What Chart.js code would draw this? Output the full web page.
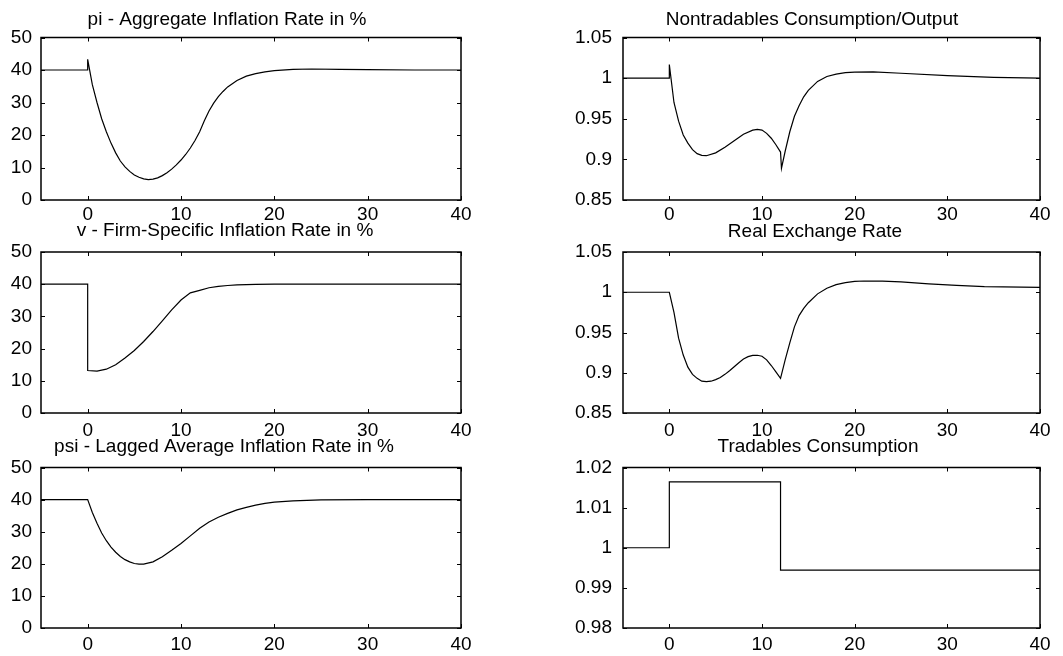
<!DOCTYPE html>
<html>
<head>
<meta charset="utf-8">
<script src="https://cdn.jsdelivr.net/npm/chart.js@4.4.1/dist/chart.umd.min.js"></script>
<style>
  html, body { margin: 0; padding: 0; background: #fff; overflow: hidden; }
  body { width: 1063px; height: 656px; position: relative; }
  canvas { position: absolute; }
</style>
</head>
<body>
<canvas id="c1"></canvas>
<canvas id="c2"></canvas>
<canvas id="c3"></canvas>
<canvas id="c4"></canvas>
<canvas id="c5"></canvas>
<canvas id="c6"></canvas>
<script>
// tick values
const xTicks = [0, 10, 20, 30, 40];
const pctTicks = [0, 10, 20, 30, 40, 50];
const ratioTicks = [0.85, 0.9, 0.95, 1, 1.05];
const tradTicks = [0.98, 0.99, 1, 1.01, 1.02];

// pi - aggregate inflation
const piT = [-5, 0, 0, 0.5, 1, 1.5, 2, 2.5, 3, 3.5, 4, 4.5, 5, 5.5, 6, 6.5, 7, 7.5, 8, 8.5, 9, 9.5, 10, 10.5, 11, 11.5, 12, 12.5, 13, 13.5, 14, 14.5, 15, 16, 17, 18, 19, 20, 22, 24, 27, 30, 35, 40];
const piV = [40, 40, 43.3, 35.5, 30, 25, 21, 17.5, 14.5, 12, 10.2, 8.8, 7.7, 7.0, 6.5, 6.3, 6.4, 6.8, 7.5, 8.4, 9.5, 10.8, 12.3, 14.0, 16.0, 18.3, 21.0, 24.4, 27.4, 29.8, 31.8, 33.4, 34.8, 36.8, 38.1, 38.9, 39.4, 39.8, 40.2, 40.3, 40.2, 40.1, 40.0, 40.0];

// nontradables consumption / output
const ntT = [-5, 0, 0, 0.5, 1, 1.5, 2, 2.5, 3, 3.5, 4, 5, 6, 7, 8, 9, 9.5, 10, 10.5, 11, 11.5, 12, 12.1, 12.5, 13, 13.5, 14, 14.5, 15, 16, 17, 18, 19, 20, 22, 25, 30, 35, 40];
const ntV = [1, 1, 1.0167, 0.97, 0.947, 0.93, 0.92, 0.912, 0.907, 0.905, 0.9045, 0.908, 0.915, 0.923, 0.931, 0.936, 0.937, 0.936, 0.932, 0.926, 0.918, 0.909, 0.889, 0.91, 0.934, 0.953, 0.966, 0.977, 0.985, 0.996, 1.002, 1.005, 1.0068, 1.0075, 1.0078, 1.006, 1.003, 1.001, 1.0];

// v - firm-specific inflation
const vT = [-5, 0, 0, 1, 2, 3, 4, 5, 6, 7, 8, 9, 10, 11, 12, 13, 14, 15, 16, 18, 20, 25, 30, 40];
const vV = [40, 40, 13.2, 13.0, 13.6, 15.0, 17.1, 19.4, 22.2, 25.3, 28.6, 32.0, 35.1, 37.3, 38.1, 38.9, 39.3, 39.6, 39.8, 39.95, 40.05, 40.05, 40.0, 40.0];

// real exchange rate
const rerT = [-5, 0, 0.5, 1, 1.5, 2, 2.5, 3, 3.5, 4, 4.5, 5, 5.5, 6, 6.5, 7, 7.5, 8, 8.5, 9, 9.5, 10, 10.5, 11, 11.5, 12, 12.5, 13, 13.5, 14, 14.5, 15, 16, 17, 18, 19, 20, 21, 23, 25, 28, 31, 34, 40];
const rerV = [1, 1, 0.975, 0.943, 0.922, 0.907, 0.898, 0.893, 0.8895, 0.889, 0.8895, 0.8915, 0.894, 0.898, 0.9025, 0.9075, 0.9125, 0.917, 0.92, 0.9215, 0.9217, 0.9205, 0.916, 0.909, 0.901, 0.893, 0.916, 0.937, 0.957, 0.971, 0.98, 0.987, 0.998, 1.005, 1.0095, 1.012, 1.0135, 1.014, 1.0138, 1.0128, 1.0105, 1.0085, 1.007, 1.006];

// psi - lagged average inflation
const psiT = [-5, 0, 0.5, 1, 1.5, 2, 2.5, 3, 3.5, 4, 4.5, 5, 5.5, 6, 7, 8, 9, 10, 11, 12, 13, 14, 15, 16, 17, 18, 19, 20, 22, 25, 30, 40];
const psiV = [40, 40, 36.0, 32.6, 29.6, 27.2, 25.2, 23.6, 22.3, 21.3, 20.6, 20.1, 19.9, 19.9, 20.6, 22.2, 24.2, 26.3, 28.7, 31.1, 33.0, 34.5, 35.7, 36.8, 37.6, 38.3, 38.8, 39.2, 39.6, 39.9, 40, 40];

// tradables consumption (step series)
const trT = [-5, 0, 12, 40];
const trV = [1, 1.0164, 0.9944, 0.9944];

const FONT = "'Liberation Sans', Arial, Helvetica, sans-serif";

// draws the frame and the inward tick marks on all four sides
const frameTicks = {
    id: 'frameTicks',
    afterDraw(chart) {
        const { ctx, chartArea: a, scales } = chart;
        const len = 4;
        ctx.save();
        ctx.strokeStyle = '#000';
        ctx.lineWidth = 1;
        ctx.beginPath();
        scales.x.ticks.forEach(t => {
            const px = Math.round(scales.x.getPixelForValue(t.value)) + 0.5;
            ctx.moveTo(px, a.bottom); ctx.lineTo(px, a.bottom - len);
            ctx.moveTo(px, a.top); ctx.lineTo(px, a.top + len);
        });
        scales.y.ticks.forEach(t => {
            const py = Math.round(scales.y.getPixelForValue(t.value)) + 0.5;
            ctx.moveTo(a.left, py); ctx.lineTo(a.left + len, py);
            ctx.moveTo(a.right, py); ctx.lineTo(a.right - len, py);
        });
        ctx.stroke();
        ctx.lineWidth = 1.5;
        ctx.strokeRect(a.left, a.top, a.right - a.left, a.bottom - a.top);
        ctx.restore();
    }
};

const fmt = v => String(Math.round(v * 1000) / 1000);

// box = plot area [left, top, right, bottom], tc = title centre
const panels = [
    { id: 'c1', title: 'pi - Aggregate Inflation Rate in %', t: piT, v: piV, min: 0, max: 50, yt: pctTicks, box: [41, 37, 461, 200], tc: [227, 19.5], ypad: 9, xpad: 3 },
    { id: 'c2', title: 'Nontradables Consumption/Output', t: ntT, v: ntV, min: 0.85, max: 1.05, yt: ratioTicks, box: [623, 37, 1040, 200], tc: [812, 19.5], ypad: 11, xpad: 3 },
    { id: 'c3', title: 'v - Firm-Specific Inflation Rate in %', t: vT, v: vV, min: 0, max: 50, yt: pctTicks, box: [41, 252, 461, 413], tc: [225, 231], ypad: 9, xpad: 6 },
    { id: 'c4', title: 'Real Exchange Rate', t: rerT, v: rerV, min: 0.85, max: 1.05, yt: ratioTicks, box: [623, 252, 1040, 413], tc: [815, 232], ypad: 11, xpad: 6 },
    { id: 'c5', title: 'psi - Lagged Average Inflation Rate in %', t: psiT, v: psiV, min: 0, max: 50, yt: pctTicks, box: [41, 467, 461, 628], tc: [224, 446.5], ypad: 9, xpad: 5 },
    { id: 'c6', title: 'Tradables Consumption', t: trT, v: trV, min: 0.98, max: 1.02, yt: tradTicks, box: [623, 467, 1040, 628], tc: [818, 446.5], ypad: 11, xpad: 5, stepped: true }
];

const yAxisW = 64;
const fontSize = 19;

panels.forEach(p => {
    const [x0, y0, x1, y1] = p.box;
    const left = x0 - yAxisW;
    const right = 2 * p.tc[0] - left;
    const top = p.tc[1] - 14;
    const height = y1 + 28 - top;
    const width = right - left;

    const cv = document.getElementById(p.id);
    cv.width = width;
    cv.height = height;
    cv.style.left = left + 'px';
    cv.style.top = top + 'px';
    cv.style.width = width + 'px';
    cv.style.height = height + 'px';

    const lineH = fontSize * 1.2;
    const padTop = p.tc[1] - top - lineH / 2;
    const padBottom = y0 - top - lineH - padTop;

    new Chart(cv, {
        type: 'line',
        data: {
            datasets: [{
                data: p.t.map((x, i) => ({ x: x, y: p.v[i] })),
                borderColor: '#000',
                borderWidth: 1.2,
                pointRadius: 0,
                tension: 0,
                fill: false,
                stepped: p.stepped ? true : false
            }]
        },
        options: {
            responsive: false,
            animation: false,
            devicePixelRatio: 1,
            layout: { padding: 0 },
            plugins: {
                legend: { display: false },
                tooltip: { enabled: false },
                title: {
                    display: true,
                    text: p.title,
                    color: '#000',
                    font: { family: FONT, size: fontSize, weight: 'normal' },
                    padding: { top: padTop, bottom: padBottom }
                }
            },
            scales: {
                x: {
                    type: 'linear',
                    min: -5,
                    max: 40,
                    grid: { display: false, drawTicks: false },
                    border: { display: false },
                    ticks: { color: '#000', font: { family: FONT, size: fontSize }, padding: p.xpad, maxRotation: 0, autoSkip: false },
                    afterBuildTicks: s => { s.ticks = xTicks.map(v => ({ value: v })); },
                    afterFit: s => {
                        s.height = 28;
                        s.paddingLeft = 0;
                        s.paddingRight = right - x1;
                    }
                },
                y: {
                    type: 'linear',
                    min: p.min,
                    max: p.max,
                    grid: { display: false, drawTicks: false },
                    border: { display: false },
                    ticks: { color: '#000', font: { family: FONT, size: fontSize }, padding: p.ypad, callback: fmt },
                    afterBuildTicks: s => { s.ticks = p.yt.map(v => ({ value: v })); },
                    afterFit: s => {
                        s.width = yAxisW;
                        s.paddingTop = 0;
                        s.paddingBottom = 0;
                    }
                }
            }
        },
        plugins: [frameTicks]
    });
});
</script>
</body>
</html>
